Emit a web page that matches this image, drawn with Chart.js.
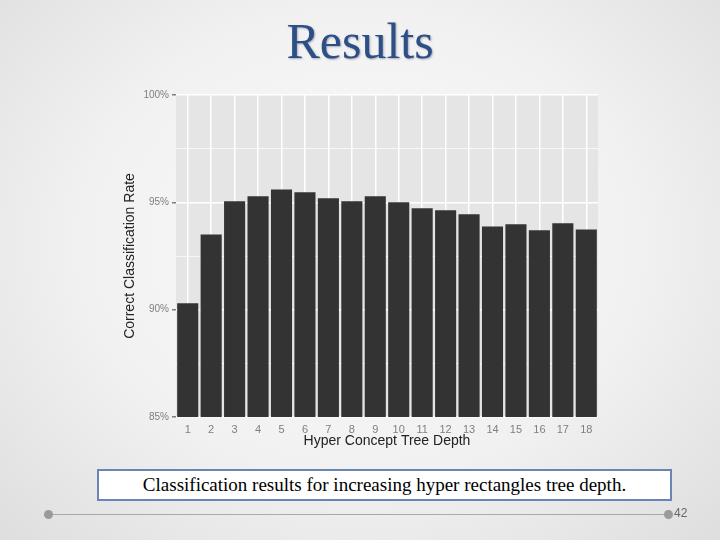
<!DOCTYPE html>
<html><head><meta charset="utf-8">
<script src="https://cdn.jsdelivr.net/npm/chart.js@4"></script>
<style>
html,body{margin:0;padding:0;width:720px;height:540px;overflow:hidden;}
body{background:radial-gradient(ellipse at 50% 45%,#fbfbfb 0%,#f1f1f1 55%,#dedede 100%);position:relative;font-family:"Liberation Serif",serif;}
#t{position:absolute;left:0;width:720px;top:12px;text-align:center;font-size:50px;color:#2c4f86;text-shadow:1px 1px 2px #aab;}
#c{position:absolute;left:0;top:0;}
#cap{position:absolute;left:97px;top:469px;width:571px;height:28px;border:2px solid #6a84b5;background:#fff;font-size:19px;text-align:center;line-height:28px;color:#000;}
#ln{position:absolute;left:48px;top:514px;width:620px;height:1px;background:#a9a9a9;}
.d{position:absolute;width:9px;height:9px;border-radius:50%;background:#9a9a9a;top:510px;}
#pg{position:absolute;left:674px;top:506px;font-size:12px;color:#666;font-family:"Liberation Sans",sans-serif;}
</style></head><body>
<canvas id="c" width="720" height="540"></canvas>
<div id="t">Results</div>
<div id="cap">Classification results for increasing hyper rectangles tree depth.</div>
<div id="ln"></div><div class="d" style="left:44px"></div><div class="d" style="left:664px"></div>
<div id="pg">42</div>
<script>
const categories=["1","2","3","4","5","6","7","8","9","10","11","12","13","14","15","16","17","18"];
const rates=[90.3,93.5,95.05,95.28,95.6,95.47,95.19,95.05,95.28,95.0,94.72,94.63,94.44,93.88,93.98,93.7,94.02,93.74];
const yTickLabels={85:"85%",90:"90%",95:"95%",100:"100%"};
const deco={id:'deco',
 beforeDraw(ch){const a=ch.chartArea,x=ch.ctx;x.save();x.fillStyle='#e5e5e5';x.fillRect(a.left,a.top,a.right-a.left,a.bottom-a.top);x.restore();},
 afterDraw(ch){const a=ch.chartArea,x=ch.ctx;x.save();x.fillStyle='#222';x.font='14px "Liberation Sans",sans-serif';x.textAlign='center';x.textBaseline='middle';
  x.fillText('Hyper Concept Tree Depth',(a.left+a.right)/2,441);
  x.translate(130,(a.top+a.bottom)/2);x.rotate(-Math.PI/2);x.fillText('Correct Classification Rate',0,0);x.restore();}
};
new Chart(document.getElementById('c'),{type:'bar',
 data:{labels:categories,datasets:[{data:rates,backgroundColor:'#333333',barPercentage:0.9,categoryPercentage:1}]},
 options:{responsive:false,animation:false,layout:{padding:{top:95,right:122,bottom:0,left:0}},
  plugins:{legend:{display:false},tooltip:{enabled:false}},
  scales:{
   x:{grid:{color:'#ffffff',lineWidth:1.5,offset:false,drawTicks:false},border:{display:false},
      ticks:{color:'#7f7f7f',font:{size:11,family:'Liberation Sans'},padding:6,maxRotation:0,autoSkip:false},
      afterFit(s){s.height=123;}},
   y:{min:85,max:100,grid:{color:'#ffffff',lineWidth:c=>c.tick&&c.tick.value%5===0?1.5:0.7,drawTicks:true,tickLength:4,tickColor:c=>c.tick&&c.tick.value%5===0?'#7f7f7f':'rgba(0,0,0,0)'},border:{display:false},
      ticks:{stepSize:2.5,color:'#7f7f7f',font:{size:10,family:'Liberation Sans'},padding:3,callback:v=>yTickLabels[v]||''},
      afterFit(s){s.width=176;}}
  }},
 plugins:[deco]});
</script></body></html>
